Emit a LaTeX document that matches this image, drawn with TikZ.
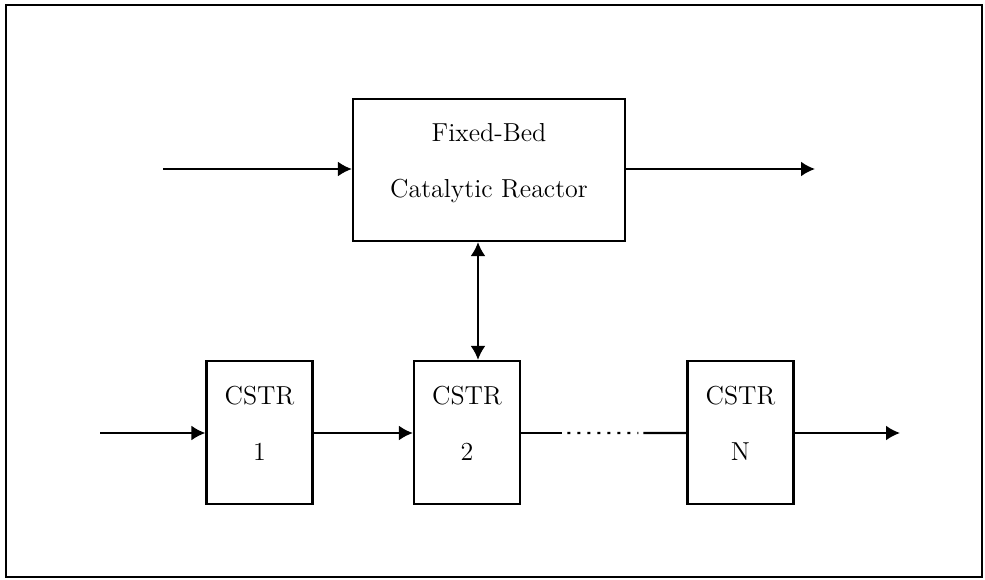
\documentclass[tikz,border=0pt]{standalone}
\usepackage{tikz}
\usetikzlibrary{arrows.meta, calc}
\tikzset{unit/.style={draw, line width=1.1pt, align=center, inner sep=0pt,
    text depth=9.5pt, font=\fontsize{13}{28}\selectfont}}
\tikzset{reactorbox/.style={unit, minimum width=136pt, minimum height=71pt}}
\tikzset{tankbox/.style={unit, minimum width=53pt, minimum height=71.5pt}}
\tikzset{flow/.style={-{Latex[length=7pt, width=7.5pt]}, line width=1.1pt}}
\tikzset{twoway/.style={{Latex[length=7pt, width=7.5pt]}-{Latex[length=7pt, width=7.5pt]}, line width=1.1pt}}
\newcommand{\topline}{169}
\newcommand{\lowline}{433}

\begin{document}
\begin{tikzpicture}[x=0.5pt, y=-0.5pt]

  \useasboundingbox (0,0) rectangle (985,579);
  \draw[line width=1pt] (6,5) rectangle (982,577);

  % --- fixed-bed reactor ---
  \node[reactorbox] (reactor) at (489,170) {Fixed-Bed\\Catalytic Reactor};
  \coordinate (feedtop) at (163,\topline);
  \coordinate (prodtop) at (815,\topline);
  \draw[flow] (feedtop) -- (reactor.west |- feedtop);
  \draw[flow] (reactor.east |- prodtop) -- (prodtop);

  % --- CSTR train ---
  \node[tankbox] (cstr1) at (259.5,432.5) {CSTR\\1};
  \node[tankbox] (cstr2) at (467,432.5) {CSTR\\2};
  \node[tankbox] (cstrN) at (740.5,432.5) {CSTR\\N};

  \coordinate (feedlow) at (100,\lowline);
  \coordinate (prodlow) at (900,\lowline);
  \draw[flow] (feedlow) -- (cstr1.west |- feedlow);
  \draw[flow] (cstr1.east |- feedlow) -- (cstr2.west |- feedlow);
  \draw[flow] (cstrN.east |- prodlow) -- (prodlow);

  % --- dotted link CSTR 2 ... CSTR N ---
  \draw[line width=1.1pt] (cstr2.east |- feedlow) -- ($(cstr2.east |- feedlow)!0.25!(cstrN.west |- feedlow)$);
  \draw[line width=1.1pt, dash pattern=on 1.5pt off 3.5pt]
    ($(cstr2.east |- feedlow)!0.28!(cstrN.west |- feedlow)$) -- ($(cstr2.east |- feedlow)!0.71!(cstrN.west |- feedlow)$);
  \draw[line width=1.1pt] ($(cstr2.east |- feedlow)!0.74!(cstrN.west |- feedlow)$) -- (cstrN.west |- feedlow);

  % --- exchange reactor <-> CSTR 2 ---
  \coordinate (tap) at (478,0);
  \draw[twoway] (reactor.south -| tap) -- (cstr2.north -| tap);

\end{tikzpicture}
\end{document}
